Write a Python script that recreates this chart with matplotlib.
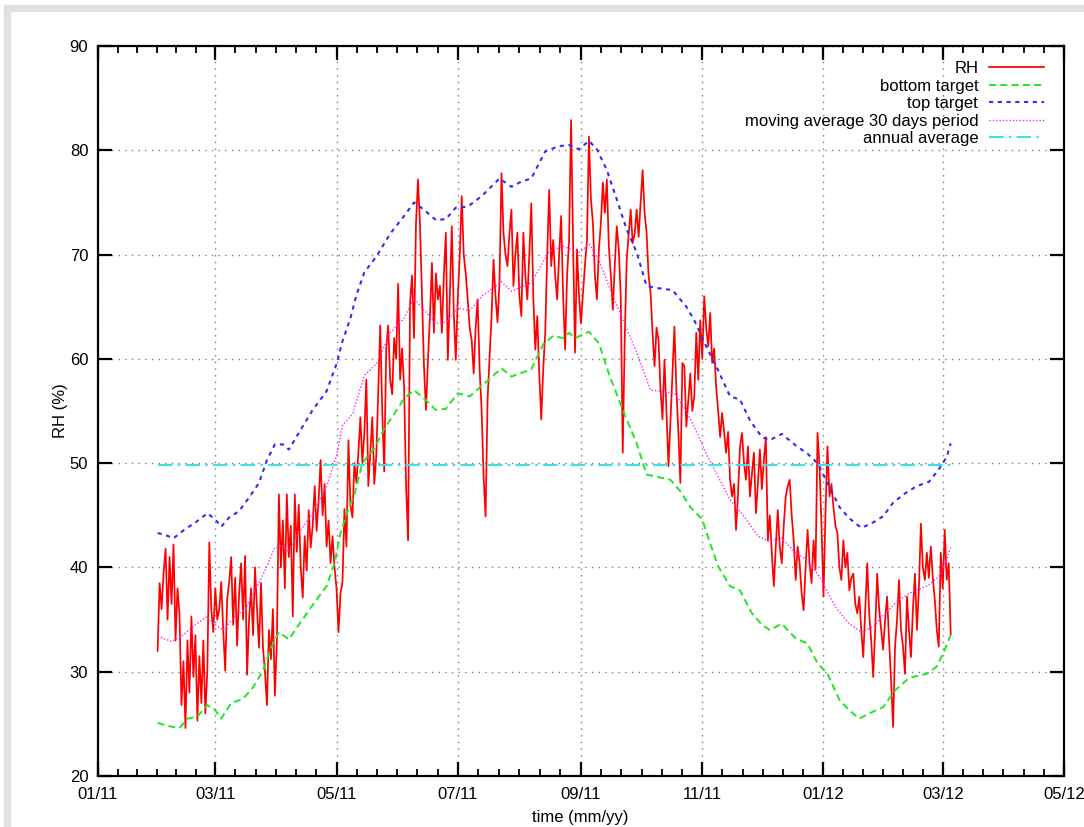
import numpy as np
import matplotlib
matplotlib.use('Agg')
import matplotlib.pyplot as plt
import matplotlib.dates as mdates
from matplotlib.patches import Rectangle
from matplotlib.ticker import FixedLocator

plt.rcParams['font.family'] = ['Liberation Sans', 'DejaVu Sans']

# ---------------- data ----------------
START = np.datetime64('2011-01-01')

# daily relative humidity, first value is day 30 after 2011-01-01
rh_first_day = 30
rh_values = [
    32.0, 38.5, 36.0, 39.5, 41.8, 35.0, 41.0, 36.5, 42.2, 33.0,   # 30
    38.0, 35.5, 26.8, 31.0, 24.6, 33.0, 28.0, 35.3, 29.5, 33.5,   # 40
    25.3, 31.5, 27.0, 33.0, 26.0, 30.0, 42.4, 36.0, 33.8, 38.0,   # 50
    35.0, 36.0, 38.6, 34.0, 30.1, 37.0, 38.6, 41.0, 34.5, 39.0,   # 60
    32.5, 37.5, 40.4, 35.0, 41.1, 29.7, 35.0, 38.0, 33.5, 40.0,   # 70
    36.0, 32.3, 38.5, 32.3, 30.0, 26.8, 34.0, 31.2, 36.0, 27.7,   # 80
    33.0, 47.0, 40.0, 44.5, 38.0, 47.0, 41.0, 44.0, 35.3, 47.0,   # 90
    41.5, 46.0, 40.0, 37.1, 43.0, 39.7, 45.5, 41.9, 44.0, 47.8,   # 100
    43.5, 46.5, 50.3, 45.0, 48.0, 42.0, 44.5, 40.4, 43.0, 40.0,   # 110
    38.0, 33.8, 37.5, 38.6, 45.6, 42.0, 52.2, 46.0, 44.8, 50.0,   # 120
    48.1, 51.0, 54.4, 50.0, 52.9, 58.0, 47.8, 51.0, 54.4, 48.0,   # 130
    50.7, 57.0, 63.2, 55.0, 49.2, 61.0, 63.2, 58.0, 56.6, 62.0,   # 140
    60.0, 67.2, 58.0, 61.0, 57.3, 47.8, 42.6, 65.4, 68.0, 62.0,   # 150
    73.1, 77.2, 72.8, 66.0, 59.3, 55.1, 59.9, 64.0, 69.2, 62.5,   # 160
    68.2, 65.7, 67.0, 62.5, 68.0, 72.1, 59.9, 66.0, 72.7, 64.4,   # 170
    59.9, 65.7, 70.0, 75.6, 70.0, 68.2, 65.7, 63.0, 61.8, 58.6,   # 180
    63.0, 65.7, 59.0, 55.1, 48.7, 44.9, 56.1, 60.0, 64.1, 69.5,   # 190
    66.0, 63.5, 67.3, 77.8, 72.1, 70.0, 68.9, 72.0, 74.3, 67.0,   # 200
    70.0, 72.1, 66.0, 64.1, 72.1, 68.0, 65.7, 70.0, 74.9, 66.0,   # 210
    60.9, 64.1, 58.6, 54.2, 59.0, 62.5, 70.0, 76.2, 68.9, 71.4,   # 220
    68.0, 65.7, 70.0, 73.7, 66.0, 60.9, 68.0, 71.4, 82.9, 71.4,   # 230
    60.6, 70.5, 66.0, 63.4, 66.3, 69.0, 71.4, 81.3, 75.3, 73.0,   # 240
    68.0, 65.7, 70.5, 73.0, 76.9, 74.0, 77.2, 70.8, 68.0, 64.7,   # 250
    69.0, 72.7, 70.5, 66.0, 51.0, 62.0, 69.5, 72.0, 74.3, 71.1,   # 260
    72.0, 74.3, 71.7, 75.0, 78.1, 74.0, 72.1, 68.0, 66.3, 62.5,   # 270
    59.3, 63.0, 61.8, 57.0, 54.2, 59.9, 55.0, 49.7, 54.0, 58.6,   # 280
    63.1, 57.0, 52.9, 48.1, 59.6, 59.3, 53.5, 56.0, 58.6, 55.0,   # 290
    56.4, 62.5, 58.0, 63.7, 60.0, 66.0, 63.0, 61.2, 64.4, 59.6,   # 300
    61.0, 57.3, 55.0, 52.5, 54.8, 53.0, 51.0, 53.0, 48.4, 46.8,   # 310
    48.0, 43.6, 47.0, 51.6, 52.9, 50.0, 48.4, 51.6, 46.8, 49.0,   # 320
    51.0, 45.2, 48.0, 51.3, 47.5, 50.3, 52.5, 42.6, 45.0, 41.4,   # 330
    38.2, 42.0, 45.5, 42.0, 40.4, 44.0, 46.8, 47.8, 48.4, 45.0,   # 340
    42.6, 38.8, 42.0, 40.4, 37.5, 35.9, 40.0, 43.6, 40.4, 38.5,   # 350
    42.6, 39.8, 52.9, 49.7, 44.0, 37.2, 45.2, 51.6, 46.8, 48.0,   # 360
    45.8, 44.0, 43.3, 40.0, 38.8, 42.6, 40.0, 41.4, 37.8, 39.0,   # 370
    39.4, 36.5, 35.6, 37.2, 34.0, 31.4, 36.0, 40.4, 35.6, 33.0,   # 380
    29.5, 34.0, 39.4, 36.0, 34.0, 32.1, 35.0, 37.2, 33.0, 29.2,   # 390
    24.7, 32.4, 35.0, 38.8, 34.0, 32.4, 29.8, 37.2, 34.0, 31.4,   # 400
    36.0, 39.4, 34.0, 38.0, 44.2, 40.0, 38.8, 41.4, 39.0, 42.0,   # 410
    39.0, 36.9, 34.0, 32.4, 41.4, 38.0, 43.6, 38.8, 40.4, 33.6,   # 420
]

bottom_days = [30, 35, 41, 45, 50, 55, 59, 62, 67, 73, 78, 83, 87, 91, 96, 101,
               108, 115, 119, 122, 126, 129, 133, 139, 144, 149, 154, 159, 164,
               170, 175, 181, 187, 193, 203, 208, 218, 224, 229, 234, 237, 240,
               247, 252, 257, 264, 271, 276, 281, 288, 293, 298, 304, 308, 312,
               318, 323, 329, 334, 338, 344, 351, 357, 362, 367, 373, 378, 383,
               388, 395, 401, 408, 417, 422, 426, 429]
bottom_values = [25.1, 24.8, 24.6, 25.5, 25.7, 26.8, 26.3, 25.5, 27.0, 27.4, 28.5,
                 30.1, 32.3, 33.8, 33.1, 34.5, 36.4, 38.2, 40.4, 43.3, 45.6, 47.0,
                 50.0, 51.4, 53.3, 54.7, 56.2, 57.0, 56.2, 55.1, 55.2, 56.7, 56.4,
                 57.4, 59.1, 58.3, 59.0, 61.4, 62.2, 62.0, 62.5, 62.0, 62.6, 61.5,
                 58.6, 55.1, 51.9, 48.9, 48.7, 48.4, 47.3, 45.8, 44.6, 42.3, 40.1,
                 38.2, 37.8, 35.6, 34.5, 34.0, 34.6, 33.2, 32.7, 30.8, 29.8, 27.3,
                 26.3, 25.5, 26.0, 26.6, 28.2, 29.4, 29.8, 30.5, 32.1, 33.5]

top_days = [30, 34, 38, 44, 49, 55, 59, 62, 66, 71, 76, 81, 85, 89, 93, 96, 101,
            108, 115, 120, 123, 127, 130, 134, 140, 147, 154, 159, 164, 170, 175,
            180, 186, 193, 202, 208, 213, 218, 225, 232, 237, 242, 247, 251, 256,
            261, 266, 271, 276, 281, 289, 296, 300, 306, 312, 318, 323, 328, 334,
            338, 344, 351, 357, 362, 367, 373, 378, 384, 389, 395, 400, 406, 412,
            418, 423, 427, 429]
top_values = [43.3, 43.1, 42.8, 43.7, 44.3, 45.2, 44.6, 43.9, 44.8, 45.4, 46.7,
              48.1, 50.3, 51.8, 51.8, 51.3, 52.9, 55.1, 56.9, 59.5, 61.7, 63.9,
              66.1, 68.3, 69.8, 72.0, 73.7, 75.0, 74.3, 73.3, 73.4, 74.5, 74.6,
              75.6, 77.3, 76.5, 77.0, 77.3, 79.9, 80.4, 80.5, 80.1, 80.9, 80.1,
              78.1, 75.3, 72.4, 70.2, 67.0, 66.8, 66.6, 65.0, 63.7, 61.2, 58.9,
              56.4, 56.1, 54.1, 52.5, 52.2, 52.8, 51.7, 50.9, 50.0, 48.1, 45.8,
              44.7, 43.8, 44.2, 44.9, 46.2, 47.1, 47.8, 48.2, 49.4, 50.6, 51.9]

mavg_days = [30, 37, 42, 49, 55, 59, 63, 69, 74, 79, 84, 89, 93, 96, 101, 108,
             115, 120, 123, 128, 134, 140, 147, 154, 159, 164, 170, 175, 181, 187,
             193, 203, 208, 218, 227, 234, 242, 247, 252, 257, 264, 271, 278, 283,
             290, 295, 300, 306, 312, 318, 325, 332, 338, 344, 351, 357, 364, 371,
             378, 384, 390, 396, 403, 410, 417, 423, 427, 429]
mavg_values = [33.4, 32.9, 33.4, 34.5, 35.3, 34.5, 34.0, 35.3, 36.0, 37.8, 39.7,
               41.9, 42.1, 41.5, 43.3, 45.2, 47.8, 50.7, 53.6, 54.7, 58.4, 59.5,
               62.5, 63.9, 65.8, 64.7, 63.4, 63.5, 64.9, 64.6, 66.0, 67.4, 66.5,
               67.3, 70.3, 70.8, 70.2, 71.0, 69.5, 67.0, 63.8, 60.6, 57.0, 56.9,
               56.7, 55.3, 53.5, 50.9, 48.7, 46.5, 44.9, 43.0, 42.5, 42.8, 41.4,
               40.7, 38.8, 36.2, 34.6, 33.8, 34.3, 35.6, 36.9, 37.7, 38.2, 39.1,
               40.7, 42.0]

annual_days = [30, 429]
annual_values = [49.8, 49.8]

xtick_dates = ['2011-01-01', '2011-03-01', '2011-05-01', '2011-07-01',
               '2011-09-01', '2011-11-01', '2012-01-01', '2012-03-01',
               '2012-05-01']
yticks = [20, 30, 40, 50, 60, 70, 80, 90]


def to_dates(days):
    return START + np.asarray(days).astype('timedelta64[D]')


rh_days = np.arange(rh_first_day, rh_first_day + len(rh_values))

# ---------------- figure ----------------
W, H = 1084, 827
fig = plt.figure(figsize=(W / 100, H / 100), dpi=100)
fig.patch.set_facecolor('white')
frame_col = '#e1e1dd'
fig.patches.append(Rectangle((4 / W, 0), 6 / W, (H - 5) / H,
                             transform=fig.transFigure, color=frame_col, zorder=0))
fig.patches.append(Rectangle((4 / W, (H - 11) / H), 1 - 4 / W, 6 / H,
                             transform=fig.transFigure, color=frame_col, zorder=0))

ax = fig.add_axes([98 / W, (H - 776) / H, 966 / W, 730 / H])

ax.plot(to_dates(rh_days), rh_values, color='#ff0000', lw=1.25, label='RH', zorder=3)
ax.plot(to_dates(bottom_days), bottom_values, color='#22e622', lw=1.4,
        linestyle=(0, (3.6, 2.2)), label='bottom target', zorder=4)
ax.plot(to_dates(top_days), top_values, color='#2f2ff5', lw=1.5,
        linestyle=(0, (2.0, 2.2)), label='top target', zorder=4)
ax.plot(to_dates(mavg_days), mavg_values, color='#ff22ff', lw=1.0,
        linestyle=(0, (1.0, 1.4)), label='moving average 30 days period', zorder=4)
ax.plot(to_dates(annual_days), annual_values, color='#3fe0e6', lw=1.5,
        linestyle=(0, (7, 2.5, 1.2, 2.5)), label='annual average', zorder=4)

# axes
major_dates = [np.datetime64(d) for d in xtick_dates]
ax.set_xlim(major_dates[0], major_dates[-1])
ax.set_ylim(yticks[0], yticks[-1])
ax.set_xticks(major_dates)
ax.xaxis.set_major_formatter(mdates.DateFormatter('%m/%y'))
mnums = mdates.date2num(major_dates)
minor = []
for a, b in zip(mnums[:-1], mnums[1:]):
    minor += [a + (b - a) * k / 6 for k in range(1, 6)]
ax.xaxis.set_minor_locator(FixedLocator(minor))
ax.set_yticks(yticks)

for s in ax.spines.values():
    s.set_linewidth(1.6)
    s.set_color('black')

ax.tick_params(which='both', direction='in', top=True, right=True,
               labelsize=12, colors='black')
ax.tick_params(which='major', length=10, width=1.6)
ax.tick_params(axis='x', which='major', pad=8)
ax.tick_params(axis='y', which='major', pad=7)
ax.tick_params(which='minor', length=5, width=1.3)

ax.grid(True, which='major', color='#7a7a7a', linestyle=(0, (1, 3.8)), linewidth=1.0)
ax.set_axisbelow(True)

ax.set_xlabel('time (mm/yy)', fontsize=12)
ax.xaxis.set_label_coords(0.499, -(810 - 776) / 730)
ax.set_ylabel('RH (%)', fontsize=12)
ax.yaxis.set_label_coords(-(98 - 68) / 966, 0.5)

ax.legend(loc='upper right', bbox_to_anchor=(1 - 20 / 966, 1 - 15 / 730),
          frameon=False, markerfirst=False, handlelength=3.3,
          handletextpad=0.65, labelspacing=0.15, borderpad=0, borderaxespad=0,
          fontsize=12)

fig.savefig('out.png', dpi=100, facecolor='white')
